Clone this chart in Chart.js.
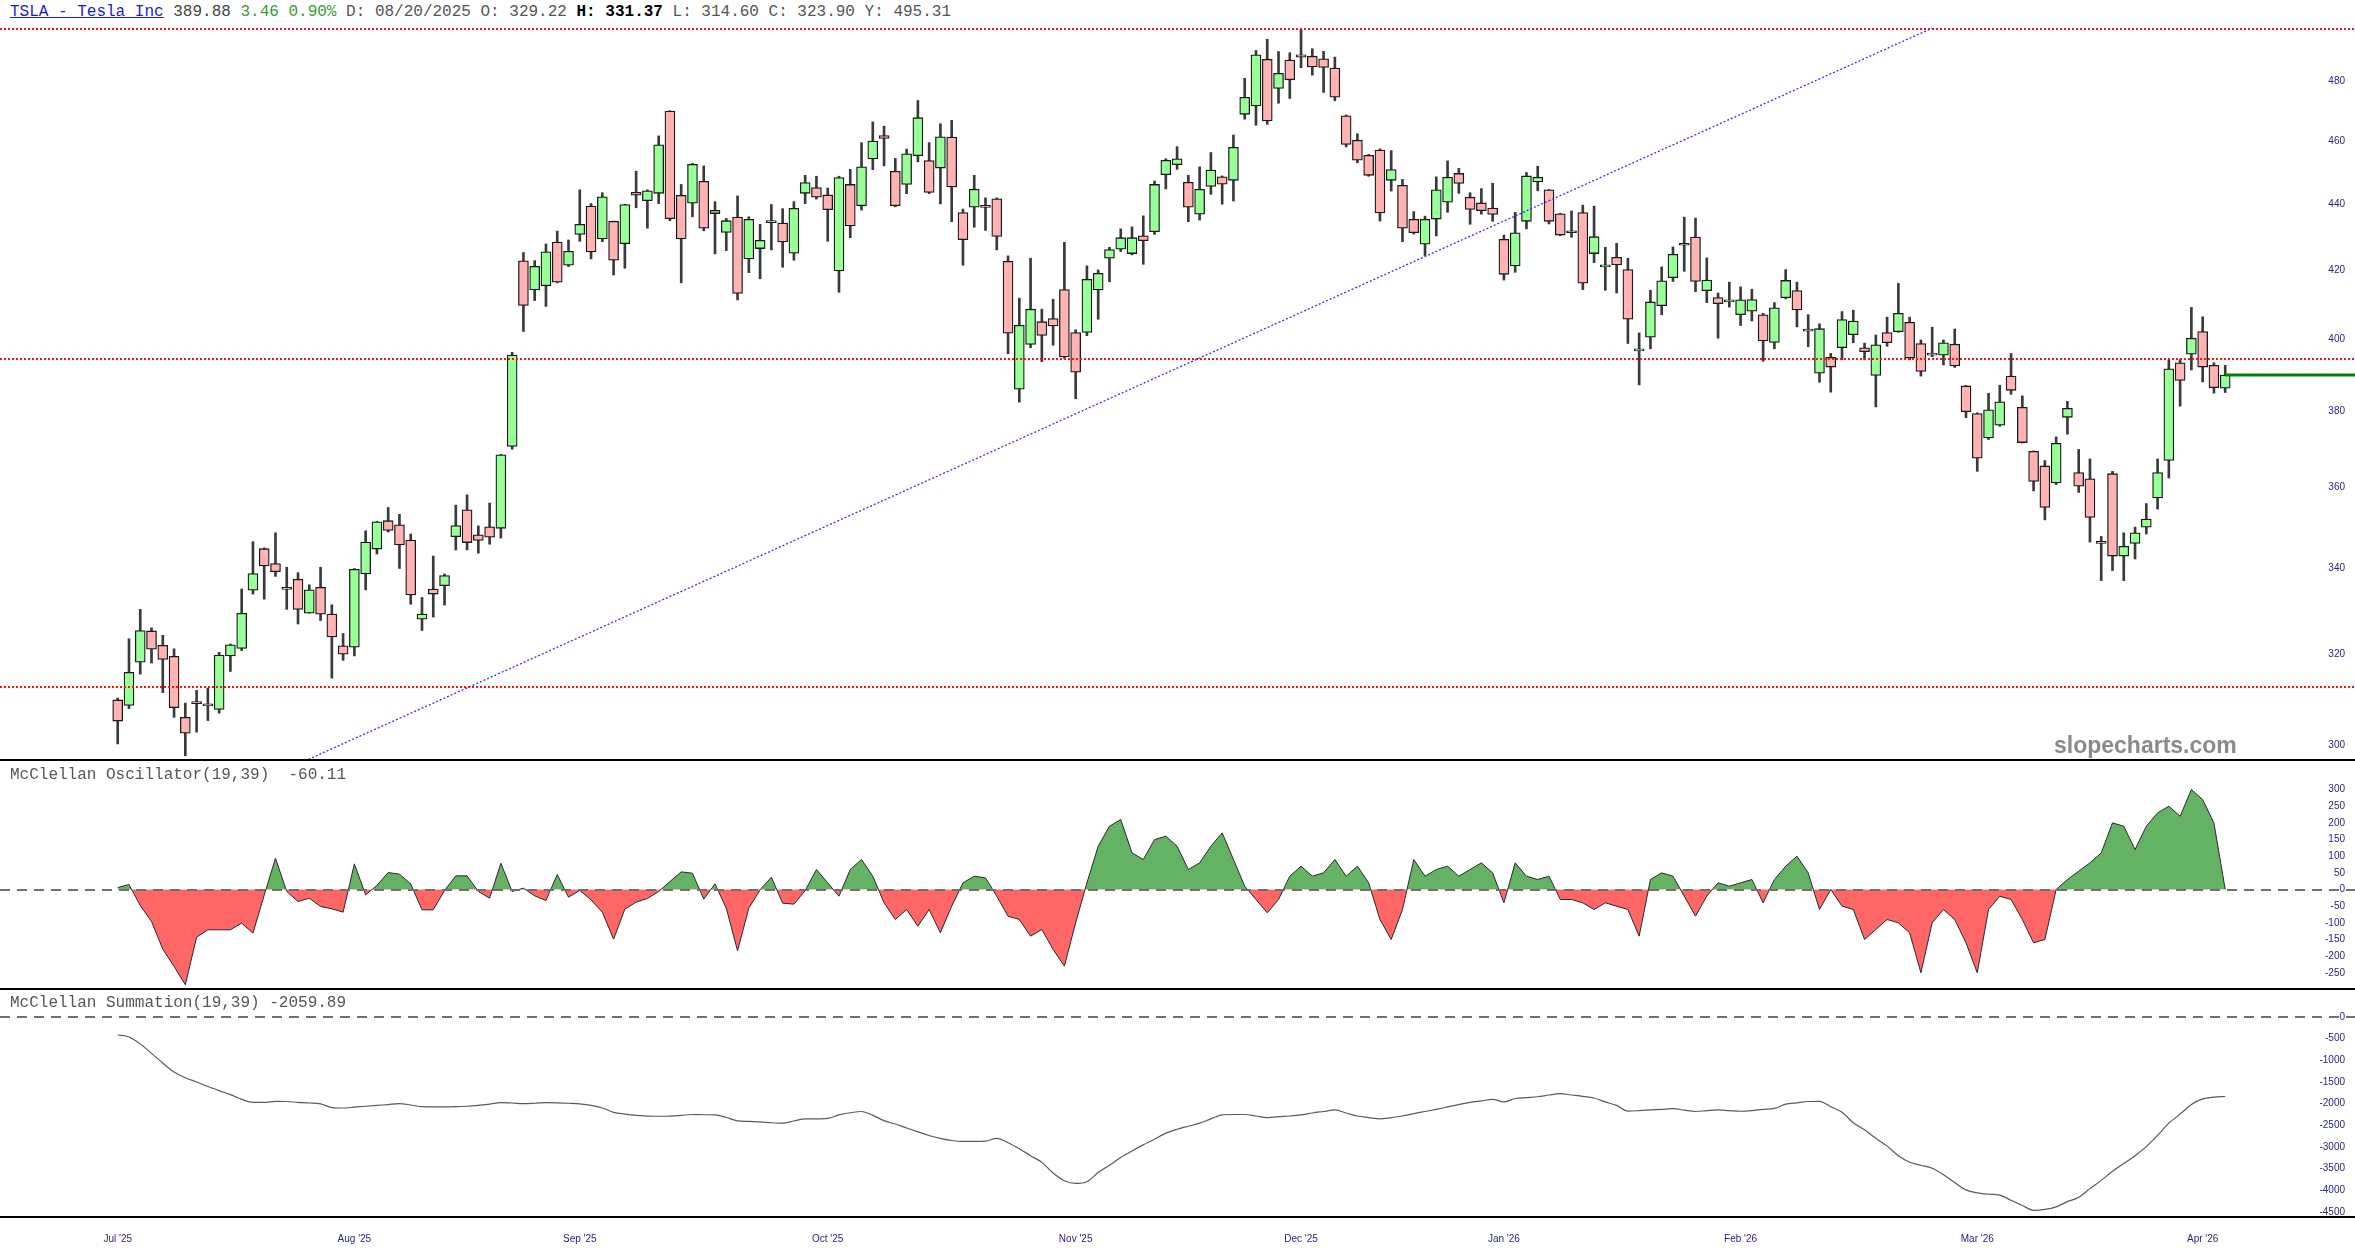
<!DOCTYPE html>
<html><head><meta charset="utf-8"><title>TSLA - Tesla Inc</title>
<script src="https://cdn.jsdelivr.net/npm/chart.js@4.4.1/dist/chart.umd.min.js"></script>
<style>
html,body{margin:0;padding:0;background:#fff;}
body{width:2355px;height:1260px;position:relative;overflow:hidden;}
canvas{position:absolute;left:0;}
.t{position:absolute;white-space:pre;font-family:"Liberation Mono","DejaVu Sans Mono",monospace;font-size:16px;line-height:16px;color:#555;}
#wm{position:absolute;left:2054px;top:732px;font:bold 23px "Liberation Sans",Arial,sans-serif;color:#8a8a8a;}
</style></head><body>
<div class="t" style="left:10px;top:4px"><span style="color:#1c1ccc;text-decoration:underline">TSLA - Tesla Inc</span> <span style="color:#444">389.88</span> <span style="color:#3a9a3a">3.46 0.90%</span> D: 08/20/2025 O: 329.22 <b style="color:#000">H: 331.37</b> L: 314.60 C: 323.90 Y: 495.31</div>
<canvas id="cPrice" width="2355" height="741" style="top:20px"></canvas>
<canvas id="cOsc" width="2355" height="229" style="top:761px"></canvas>
<canvas id="cSum" width="2355" height="270" style="top:990px"></canvas>
<div class="t" style="left:10px;top:767px">McClellan Oscillator(19,39)  -60.11</div>
<div class="t" style="left:10px;top:995px">McClellan Summation(19,39) -2059.89</div>
<div id="wm">slopecharts.com</div>
<script>
// ---------- DATA ----------
const opens = [309.8,308.6,318.2,325.3,322.0,319.5,306.0,309.3,308.9,307.7,319.6,321.3,334.8,344.8,341.2,335.0,337.4,329.4,335.5,329.22,
321.9,321.6,338.7,344.7,351.7,350.7,346.9,328.0,335.1,335.9,347.75,354.4,348.2,350.2,349.8,370.65,422.7,414.1,415.3,428.4,
421.4,430.7,439.4,429.3,434.7,427.9,443.7,441.1,443.4,470.0,442.8,440.3,447.2,437.1,431.3,436.0,423.3,426.4,434.3,434.2,
425.0,443.4,445.2,442.9,419.7,446.2,439.5,454.3,461.9,450.4,446.2,455.4,453.8,451.4,461.4,437.4,439.1,439.3,441.7,422.6,
386.0,398.4,404.9,405.8,414.2,401.8,401.8,414.1,423.5,426.2,424.9,430.3,431.5,449.3,452.5,446.9,436.9,445.6,448.6,447.5,
468.9,471.7,487.5,477.6,487.3,489.1,488.6,487.7,484.5,468.4,460.4,455.5,457.2,447.5,445.9,435.3,427.7,435.4,440.6,449.7,
442.2,440.4,438.8,429.2,421.2,434.7,447.0,444.5,437.0,431.6,437.4,424.9,420.9,423.8,420.1,396.6,400.5,409.5,417.7,427.4,
429.9,413.9,411.9,410.6,406.9,407.9,406.9,399.0,411.8,413.9,402.6,390.4,394.8,397.5,401.2,397.5,389.8,401.8,402.0,404.7,
398.7,396.0,395.4,398.5,386.9,379.4,372.9,376.3,389.6,381.1,369.4,365.6,361.2,378.4,363.9,362.3,346.5,363.6,343.0,346.1,
350.1,357.4,367.0,393.3,395.7,402.1,392.6,386.3];
const highs = [310.2,323.5,330.3,326.0,324.3,321.2,309.1,311.9,312.4,320.4,322.3,335.1,346.5,345.0,348.7,340.3,339.0,336.1,340.3,331.37,
324.7,340.0,349.2,351.5,355.0,353.3,348.4,333.1,343.0,338.7,355.6,358.2,350.4,356.1,368.6,396.2,425.2,422.8,427.8,431.7,
429.0,444.5,440.2,443.6,434.8,440.0,450.4,444.5,461.8,470.1,446.2,452.9,452.1,440.8,435.6,442.6,436.1,433.8,439.9,438.6,
440.8,449.1,448.8,445.1,448.8,451.0,459.6,466.4,465.0,454.5,457.5,473.5,459.6,465.8,466.9,438.5,449.1,442.0,442.0,424.2,
411.7,423.5,408.5,411.4,428.3,402.6,421.2,420.0,426.8,432.4,433.0,436.4,447.3,454.4,458.3,449.1,451.8,456.4,448.9,462.1,
481.0,490.6,494.5,490.2,489.8,498.0,491.2,490.3,488.3,468.7,462.5,455.8,457.6,457.0,447.8,437.7,436.3,448.6,453.7,451.3,
443.6,444.9,446.6,430.5,437.5,450.0,452.0,444.6,437.2,437.9,439.7,439.4,426.8,428.0,423.5,401.7,414.0,420.9,426.9,436.0,
435.7,423.6,413.2,416.4,415.0,414.3,407.3,410.4,420.1,416.4,406.9,404.3,395.9,407.8,408.2,398.8,401.1,406.2,416.0,406.2,
399.7,403.3,399.7,402.8,387.0,379.6,384.9,387.1,395.9,384.2,369.5,367.0,373.2,382.7,369.9,367.4,347.8,364.2,348.7,350.1,
356.0,367.4,394.1,394.2,409.0,406.3,393.3,392.6];
const lows = [300.3,307.9,315.5,318.0,311.4,306.0,297.8,302.8,305.3,306.9,316.1,320.8,333.9,332.7,338.1,330.3,326.9,329.4,327.7,314.60,
318.6,319.6,334.9,343.5,348.9,340.0,331.5,325.4,328.5,331.3,344.5,344.5,343.7,345.9,347.4,369.95,402.1,411.0,409.3,416.2,
421.0,428.6,423.3,428.5,418.5,420.5,438.9,432.6,440.2,434.9,416.2,436.1,431.8,424.8,425.8,411.2,419.2,417.4,426.0,420.8,
422.9,440.2,441.6,428.6,413.4,429.7,438.2,450.9,452.1,439.2,443.3,453.4,443.3,440.1,434.6,421.4,432.9,431.9,426.0,395.8,
382.5,397.5,393.6,398.2,394.5,383.4,400.9,405.6,416.5,425.5,424.5,421.7,430.7,444.8,451.0,434.6,435.1,443.1,440.0,441.0,
467.3,465.3,465.6,472.6,474.2,484.6,482.1,476.2,473.4,458.2,453.1,448.8,434.8,444.1,428.5,430.8,424.3,430.2,437.5,443.4,
433.8,436.9,434.7,417.0,419.3,432.4,444.2,433.9,430.3,429.8,414.2,422.2,414.0,413.2,398.7,387.2,397.2,406.9,416.6,419.6,
413.6,410.4,400.2,409.1,403.8,405.1,393.7,397.2,411.5,403.4,397.8,387.9,385.2,394.1,398.9,394.1,381.2,397.9,401.9,394.1,
389.6,395.0,392.7,392.0,378.3,364.2,372.5,376.0,384.6,371.6,359.2,351.9,360.8,373.9,358.8,346.4,337.1,339.5,337.1,342.3,
348.4,354.6,362.5,381.4,391.3,388.0,384.9,385.1];
const closes = [305.2,315.9,325.4,321.1,318.8,308.1,302.6,309.0,308.5,319.8,322.1,329.4,338.8,340.6,339.2,335.5,330.3,334.9,329.2,323.90,
320.0,339.8,346.4,351.4,349.3,345.7,333.7,329.2,333.9,338.3,350.5,346.3,346.8,347.6,368.5,395.45,409.6,421.1,425.4,416.4,
425.6,433.8,425.4,442.3,422.9,439.9,442.8,444.2,458.9,435.5,429.3,452.6,432.6,438.1,434.9,413.1,435.3,428.9,434.7,428.4,
438.7,446.8,442.2,438.3,448.4,433.3,451.8,460.1,461.0,439.5,456.0,467.8,443.7,461.5,445.4,429.1,444.7,439.0,430.1,401.6,
403.9,408.5,401.0,403.7,394.9,390.7,417.2,419.0,426.1,429.7,429.7,428.8,446.2,453.9,454.4,439.1,444.7,450.8,446.3,458.1,
474.6,489.1,466.7,482.7,480.5,488.3,484.9,484.7,474.6,459.0,453.9,449.1,437.3,450.9,432.6,431.2,435.3,444.5,448.5,446.5,
438.4,438.0,436.8,418.7,431.2,448.9,448.5,434.7,430.5,431.2,416.1,430.0,421.5,421.5,405.6,397.0,410.6,416.8,424.7,427.8,
416.6,417.0,410.1,411.0,411.2,411.3,399.4,408.9,416.9,408.3,402.2,402.9,392.1,405.5,405.1,396.4,398.3,398.9,407.3,394.6,
390.9,395.4,398.9,392.4,379.9,367.6,380.4,382.6,385.7,371.7,361.6,355.0,371.5,380.8,360.4,352.5,346.1,343.0,345.4,348.7,
352.1,363.9,391.6,388.4,400.2,392.1,386.42,389.88];

const oscValues = [6,15,-48,-96,-179,-231,-286,-143,-121,-121,-121,-101,-131,-17,94,-6,-36,-26,-51,-58,
-68,77,-16,12,51,46,17,-61,-61,-3,41,41,-6,-26,79,-6,4,-19,-33,45,
-23,-3,-31,-68,-149,-59,-38,-27,-6,24,53,49,-29,17,-56,-184,-56,-1,37,-41,
-44,-3,60,20,-20,60,90,40,-40,-90,-60,-110,-60,-130,-50,20,40,35,-20,-80,
-90,-140,-120,-180,-230,-100,20,130,190,210,110,90,150,160,130,60,80,130,170,90,
10,-30,-70,-30,40,70,40,50,90,40,70,20,-90,-150,-60,90,40,60,70,40,
60,80,50,-40,80,40,30,40,-30,-30,-40,-60,-40,-50,-60,-140,30,50,40,-20,
-80,-20,20,10,20,30,-40,30,70,100,50,-60,0,-50,-60,-150,-120,-90,-100,-130,
-250,-100,-60,-90,-160,-250,-60,-20,-30,-90,-160,-150,0,30,55,80,110,200,190,120,
190,230,250,220,300,270,200,0];

const sumValues = [-415,-460,-620,-840,-1060,-1270,-1400,-1500,-1605,-1700,-1790,-1900,-1970,-1970,-1945,-1950,-1970,-1985,-2005,-2090,
-2100,-2080,-2060,-2040,-2020,-2000,-2030,-2070,-2075,-2075,-2070,-2060,-2040,-2010,-1975,-1985,-2000,-1990,-1975,-1980,
-1990,-2005,-2040,-2100,-2200,-2240,-2270,-2285,-2290,-2285,-2270,-2250,-2255,-2260,-2320,-2395,-2410,-2420,-2440,-2450,
-2400,-2350,-2350,-2340,-2260,-2210,-2180,-2270,-2390,-2470,-2560,-2650,-2735,-2800,-2850,-2870,-2870,-2865,-2800,-2900,
-3040,-3200,-3355,-3600,-3780,-3840,-3800,-3590,-3420,-3240,-3090,-2950,-2820,-2680,-2590,-2520,-2450,-2350,-2260,-2250,
-2250,-2285,-2320,-2300,-2285,-2260,-2215,-2180,-2145,-2215,-2285,-2320,-2350,-2320,-2285,-2230,-2180,-2130,-2075,-2020,
-1970,-1935,-1900,-1960,-1880,-1860,-1840,-1800,-1770,-1800,-1830,-1870,-1960,-2040,-2170,-2160,-2145,-2130,-2115,-2150,
-2180,-2160,-2145,-2160,-2175,-2160,-2130,-2110,-2010,-1980,-1950,-1945,-2070,-2200,-2440,-2600,-2800,-2980,-3200,-3350,
-3420,-3490,-3640,-3820,-3990,-4060,-4090,-4110,-4230,-4350,-4460,-4440,-4380,-4260,-4160,-3960,-3770,-3560,-3380,-3200,
-2990,-2730,-2450,-2240,-2020,-1890,-1850,-1835];

const xTickIdx = [0,21,41,63,85,105,123,144,165,185];
const xTickLabels = ["Jul '25","Aug '25","Sep '25","Oct '25","Nov '25","Dec '25","Jan '26","Feb '26","Mar '26","Apr '26"];
const priceTicks = [300,320,340,360,380,400,420,440,460,480];
const oscTicks = [300,250,200,150,100,50,0,-50,-100,-150,-200,-250];
const sumTicks = [0,-500,-1000,-1500,-2000,-2500,-3000,-3500,-4000,-4500];
const levelLines = [498.1,394.3,312.7];
const lastPrice = 389.88;
const trendX = [16.6,161.0];
const trendY = [296.7,498.4];

// ---------- LAYOUT / STYLE ----------
const X_MIN = -10.444, X_MAX = 192.75;
const AXIS_W = 55, PAD_R = 10;
const tickFont = {family:"'Liberation Sans', Arial, sans-serif", size:10};
const tickColor = '#26267e';

function noPad(s){ s.paddingTop=0; s.paddingBottom=0; s.paddingLeft=0; s.paddingRight=0; }
function yAxis(extra){
  return Object.assign({
    position:'right',
    grid:{display:false}, border:{display:false},
    afterFit:s=>{s.width=AXIS_W; noPad(s);},
  }, extra);
}
const xHidden = {type:'linear', min:X_MIN, max:X_MAX, offset:false, display:false, grid:{offset:false}};
const common = {animation:false, responsive:false, maintainAspectRatio:false,
  plugins:{legend:{display:false}, tooltip:{enabled:false}}};

// ---------- PRICE ----------
const bodies = opens.map((o,i)=>({x:i, y:[o, closes[i]]}));
const wicks = lows.map((l,i)=>({x:i, y:[l, highs[i]]}));
const trend = trendX.map((x,i)=>({x, y:trendY[i]}));

const pricePlugin = {
  id:'priceDeco',
  afterDatasetsDraw(chart){
    const {ctx} = chart; const xs = chart.scales.x, ys = chart.scales.y; const W = chart.width;
    ctx.save();
    ctx.strokeStyle='#ff1010'; ctx.lineWidth=2; ctx.setLineDash([2,2]);
    levelLines.forEach(v=>{const py=Math.round(ys.getPixelForValue(v)); ctx.beginPath(); ctx.moveTo(0,py); ctx.lineTo(W,py); ctx.stroke();});
    ctx.setLineDash([]);
    ctx.strokeStyle='#008000'; ctx.lineWidth=3;
    const ly = ys.getPixelForValue(lastPrice), lx = xs.getPixelForValue(closes.length-1);
    ctx.beginPath(); ctx.moveTo(lx,ly); ctx.lineTo(W,ly); ctx.stroke();
    ctx.strokeStyle='#000'; ctx.lineWidth=2;
    const by = chart.chartArea.bottom;
    ctx.beginPath(); ctx.moveTo(0,by); ctx.lineTo(W,by); ctx.stroke();
    ctx.restore();
  }
};

new Chart(document.getElementById('cPrice'), {
  type:'bar',
  data:{datasets:[
    {type:'line', data:trend, borderColor:'#3030ff', borderWidth:1.3, borderDash:[2,2], pointRadius:0, fill:false, order:0},
    {data:bodies, grouped:false, barThickness:10, minBarLength:2, borderSkipped:false, borderWidth:1.3, borderColor:'#1a1a1a',
      backgroundColor:c=> (closes[c.dataIndex] >= opens[c.dataIndex]) ? '#99ff99' : '#ffb3b3', order:1},
    {data:wicks, grouped:false, barThickness:2, borderWidth:0, backgroundColor:'#3a3a3a', order:2}
  ]},
  options:Object.assign({}, common, {
    layout:{padding:{left:0,right:PAD_R,top:0,bottom:1}},
    scales:{
      x:xHidden,
      y:yAxis({type:'logarithmic', min:296.9, max:501.28,
        afterBuildTicks:s=>{s.ticks=priceTicks.map(v=>({value:v}));},
        ticks:{crossAlign:'far', font:tickFont, color:tickColor, padding:0, autoSkip:false, callback:v=>String(v)}})
    }
  }),
  plugins:[pricePlugin]
});

// ---------- OSCILLATOR ----------
function zeroAndBorder(borderAtArea){
  return {
    id:'zb',
    afterDraw(chart){
      const {ctx} = chart; const ys = chart.scales.y; const W = chart.width;
      ctx.save();
      ctx.strokeStyle='#707070'; ctx.lineWidth=2; ctx.setLineDash([10,7]);
      const zy = Math.round(ys.getPixelForValue(0));
      ctx.beginPath(); ctx.moveTo(0,zy); ctx.lineTo(W,zy); ctx.stroke();
      ctx.setLineDash([]); ctx.strokeStyle='#000'; ctx.lineWidth=2;
      const by = borderAtArea ? chart.chartArea.bottom+1 : chart.height-1;
      ctx.beginPath(); ctx.moveTo(0,by); ctx.lineTo(W,by); ctx.stroke();
      ctx.restore();
    }
  };
}

new Chart(document.getElementById('cOsc'), {
  type:'line',
  data:{datasets:[{data:oscValues.map((v,i)=>({x:i,y:v})), borderColor:'#2a2a2a', borderWidth:1, pointRadius:0, tension:0,
    fill:{target:'origin', above:'rgb(100,178,100)', below:'rgb(255,102,102)'}}]},
  options:Object.assign({}, common, {
    layout:{padding:{left:0,right:PAD_R,top:1,bottom:1}},
    scales:{
      x:xHidden,
      y:yAxis({min:-298.6, max:382.7,
        afterBuildTicks:s=>{s.ticks=oscTicks.map(v=>({value:v}));},
        ticks:{crossAlign:'far', font:tickFont, color:tickColor, padding:0, autoSkip:false, callback:v=>String(v)}})
    }
  }),
  plugins:[zeroAndBorder(false)]
});

// ---------- SUMMATION ----------
new Chart(document.getElementById('cSum'), {
  type:'line',
  data:{datasets:[{data:sumValues.map((v,i)=>({x:i,y:v})), borderColor:'#5a5a5a', borderWidth:1.2, pointRadius:0,
    cubicInterpolationMode:'monotone', fill:false}]},
  options:Object.assign({}, common, {
    layout:{padding:{left:0,right:PAD_R,top:2,bottom:0}},
    scales:{
      x:{type:'linear', min:X_MIN, max:X_MAX, offset:false, position:'bottom',
        grid:{display:false, drawTicks:false}, border:{display:false},
        afterFit:s=>{s.height=44; noPad(s);},
        afterBuildTicks:s=>{s.ticks=xTickIdx.map(v=>({value:v}));},
        ticks:{autoSkip:false, maxRotation:0, font:{family:"'Liberation Sans', Arial, sans-serif", size:10}, color:tickColor, padding:17,
          callback:(v)=>{const k=xTickIdx.indexOf(v); return k>=0?xTickLabels[k]:'';}}},
      y:yAxis({min:-4592, max:577,
        afterBuildTicks:s=>{s.ticks=sumTicks.map(v=>({value:v}));},
        ticks:{crossAlign:'far', font:tickFont, color:tickColor, padding:0, autoSkip:false, callback:v=>String(v)}})
    }
  }),
  plugins:[zeroAndBorder(true)]
});
</script>
</body></html>
